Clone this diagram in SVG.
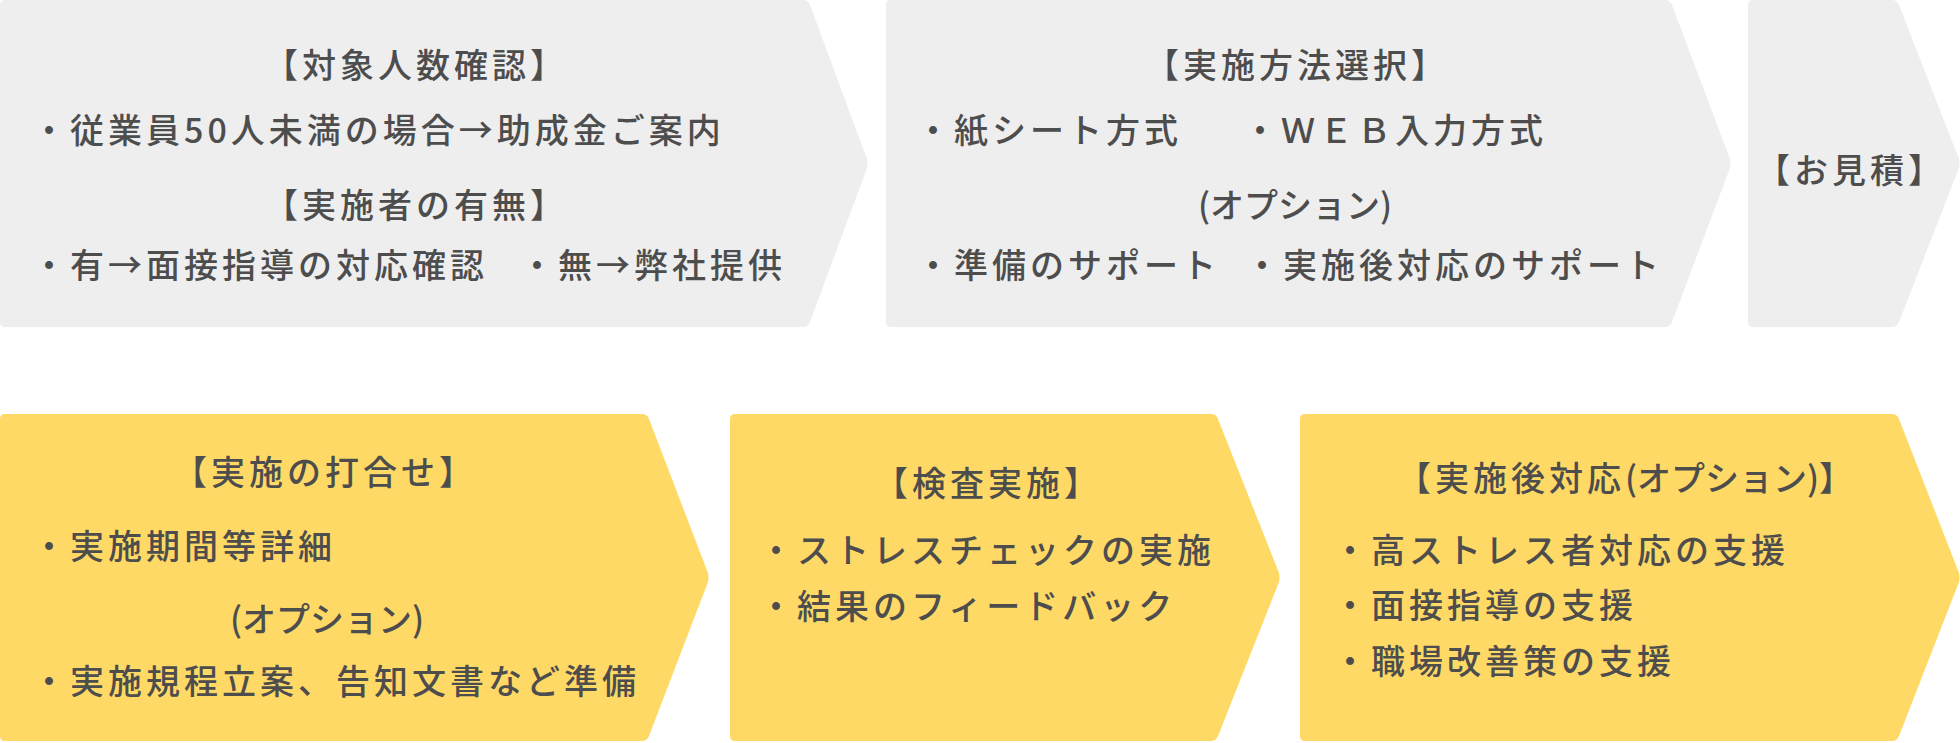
<svg xmlns="http://www.w3.org/2000/svg" width="1960" height="743" viewBox="0 0 1960 743">
<style>
.gray{fill:#eeeeee}
.yel{fill:#ffd966}
text{font-family:"Noto Sans CJK JP","Noto Sans CJK SC",sans-serif;font-size:34px;font-weight:500;fill:#4d4d4d;letter-spacing:4px}
.c{text-anchor:middle}
.opt{letter-spacing:0px}
</style>
<rect width="1960" height="743" fill="#ffffff"/>
<g id="step1">
<path class="gray" d="M5,0 H803 Q808,0 810,5 L867,159 Q868,163.5 867,168 L810,322 Q808,327 803,327 H5 Q0,327 0,322 V5 Q0,0 5,0 Z"/>
<text class="c" x="416" y="78">【対象人数確認】</text>
<text x="32" y="143">・従業員50人未満の場合→助成金ご案内</text>
<text class="c" x="416" y="218">【実施者の有無】</text>
<text x="32" y="278">・有→面接指導の対応確認</text>
<text x="520" y="278">・無→弊社提供</text>
</g>
<g id="step2">
<path class="gray" d="M891,0 H1665 Q1670,0 1672,5 L1730,159 Q1731,163.5 1730,168 L1672,322 Q1670,327 1665,327 H891 Q886,327 886,322 V5 Q886,0 891,0 Z"/>
<text class="c" x="1297" y="78">【実施方法選択】</text>
<text x="916" y="143">・紙シート方式</text>
<text x="1243" y="143">・ＷＥＢ入力方式</text>
<text class="c opt" x="1295" y="218">(オプション)</text>
<text x="916" y="278">・準備のサポート</text>
<text x="1245" y="278">・実施後対応のサポート</text>
</g>
<g id="step3">
<path class="gray" d="M1753,0 H1892 Q1897,0 1899,5 L1959,159 Q1960,163.5 1959,168 L1899,322 Q1897,327 1892,327 H1753 Q1748,327 1748,322 V5 Q1748,0 1753,0 Z"/>
<text class="c" x="1851" y="183">【お見積】</text>
</g>
<g id="step4">
<path class="yel" d="M5,414 H642 Q647,414 649,419 L708,573 Q709,577.5 708,582 L649,736 Q647,741 642,741 H5 Q0,741 0,736 V419 Q0,414 5,414 Z"/>
<text class="c" x="325" y="485">【実施の打合せ】</text>
<text x="32" y="559">・実施期間等詳細</text>
<text class="c opt" x="327" y="632">(オプション)</text>
<text x="32" y="694">・実施規程立案、告知文書など準備</text>
</g>
<g id="step5">
<path class="yel" d="M735,414 H1211 Q1216,414 1218,419 L1279,573 Q1280,577.5 1279,582 L1218,736 Q1216,741 1211,741 H735 Q730,741 730,736 V419 Q730,414 735,414 Z"/>
<text class="c" x="988" y="496">【検査実施】</text>
<text x="759" y="563">・ストレスチェックの実施</text>
<text x="759" y="619">・結果のフィードバック</text>
</g>
<g id="step6">
<path class="yel" d="M1305,414 H1892 Q1897,414 1899,419 L1959,573 Q1960,577.5 1959,582 L1899,736 Q1897,741 1892,741 H1305 Q1300,741 1300,736 V419 Q1300,414 1305,414 Z"/>
<text class="c" x="1627" y="491">【実施後対応<tspan class="opt">(オプション)</tspan>】</text>
<text x="1333" y="563">・高ストレス者対応の支援</text>
<text x="1333" y="618">・面接指導の支援</text>
<text x="1333" y="674">・職場改善策の支援</text>
</g>
<g id="connectors"></g>
</svg>
